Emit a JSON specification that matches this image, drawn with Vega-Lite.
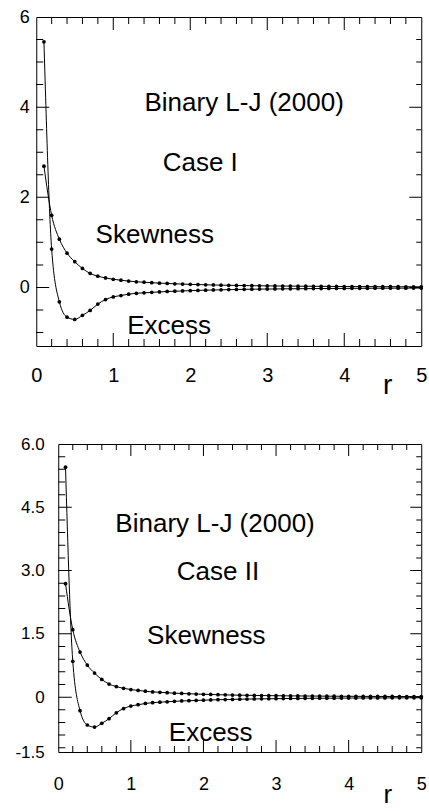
{
  "$schema": "https://vega.github.io/schema/vega-lite/v6.json",
  "padding": {"top": 7, "left": 13, "right": 0, "bottom": 0},
  "config": {
    "font": "Liberation Sans",
    "view": {"stroke": "black", "strokeWidth": 1},
    "axis": {"grid": false, "domain": false, "ticks": false, "tickColor": "black", "labelColor": "black", "titleColor": "black", "labelFont": "Liberation Sans", "titleFont": "Liberation Sans", "labelFlush": false, "labelOverlap": false}
  },
  "datasets": {
    "curves": [
      {"r":0.1,"v":2.69,"s":"Skewness"},{"r":0.2,"v":1.60,"s":"Skewness"},{"r":0.3,"v":1.07,"s":"Skewness"},{"r":0.4,"v":0.76,"s":"Skewness"},{"r":0.5,"v":0.57,"s":"Skewness"},
      {"r":0.6,"v":0.42,"s":"Skewness"},{"r":0.7,"v":0.31,"s":"Skewness"},{"r":0.8,"v":0.25,"s":"Skewness"},{"r":0.9,"v":0.21,"s":"Skewness"},{"r":1.0,"v":0.18,"s":"Skewness"},
      {"r":1.1,"v":0.16,"s":"Skewness"},{"r":1.2,"v":0.14,"s":"Skewness"},{"r":1.3,"v":0.125,"s":"Skewness"},{"r":1.4,"v":0.115,"s":"Skewness"},{"r":1.5,"v":0.105,"s":"Skewness"},
      {"r":1.6,"v":0.095,"s":"Skewness"},{"r":1.7,"v":0.088,"s":"Skewness"},{"r":1.8,"v":0.080,"s":"Skewness"},{"r":1.9,"v":0.074,"s":"Skewness"},{"r":2.0,"v":0.068,"s":"Skewness"},
      {"r":2.1,"v":0.063,"s":"Skewness"},{"r":2.2,"v":0.058,"s":"Skewness"},{"r":2.3,"v":0.054,"s":"Skewness"},{"r":2.4,"v":0.050,"s":"Skewness"},{"r":2.5,"v":0.047,"s":"Skewness"},
      {"r":2.6,"v":0.044,"s":"Skewness"},{"r":2.7,"v":0.041,"s":"Skewness"},{"r":2.8,"v":0.038,"s":"Skewness"},{"r":2.9,"v":0.036,"s":"Skewness"},{"r":3.0,"v":0.034,"s":"Skewness"},
      {"r":3.1,"v":0.032,"s":"Skewness"},{"r":3.2,"v":0.030,"s":"Skewness"},{"r":3.3,"v":0.029,"s":"Skewness"},{"r":3.4,"v":0.027,"s":"Skewness"},{"r":3.5,"v":0.026,"s":"Skewness"},
      {"r":3.6,"v":0.025,"s":"Skewness"},{"r":3.7,"v":0.023,"s":"Skewness"},{"r":3.8,"v":0.022,"s":"Skewness"},{"r":3.9,"v":0.021,"s":"Skewness"},{"r":4.0,"v":0.020,"s":"Skewness"},
      {"r":4.1,"v":0.019,"s":"Skewness"},{"r":4.2,"v":0.018,"s":"Skewness"},{"r":4.3,"v":0.018,"s":"Skewness"},{"r":4.4,"v":0.017,"s":"Skewness"},{"r":4.5,"v":0.016,"s":"Skewness"},
      {"r":4.6,"v":0.016,"s":"Skewness"},{"r":4.7,"v":0.015,"s":"Skewness"},{"r":4.8,"v":0.014,"s":"Skewness"},{"r":4.9,"v":0.014,"s":"Skewness"},{"r":5.0,"v":0.013,"s":"Skewness"},
      {"r":0.1,"v":5.45,"s":"Excess"},{"r":0.2,"v":0.85,"s":"Excess"},{"r":0.3,"v":-0.32,"s":"Excess"},{"r":0.4,"v":-0.66,"s":"Excess"},{"r":0.5,"v":-0.71,"s":"Excess"},
      {"r":0.6,"v":-0.62,"s":"Excess"},{"r":0.7,"v":-0.51,"s":"Excess"},{"r":0.8,"v":-0.37,"s":"Excess"},{"r":0.9,"v":-0.27,"s":"Excess"},{"r":1.0,"v":-0.21,"s":"Excess"},
      {"r":1.1,"v":-0.18,"s":"Excess"},{"r":1.2,"v":-0.15,"s":"Excess"},{"r":1.3,"v":-0.13,"s":"Excess"},{"r":1.4,"v":-0.12,"s":"Excess"},{"r":1.5,"v":-0.11,"s":"Excess"},
      {"r":1.6,"v":-0.10,"s":"Excess"},{"r":1.7,"v":-0.09,"s":"Excess"},{"r":1.8,"v":-0.085,"s":"Excess"},{"r":1.9,"v":-0.078,"s":"Excess"},{"r":2.0,"v":-0.072,"s":"Excess"},
      {"r":2.1,"v":-0.066,"s":"Excess"},{"r":2.2,"v":-0.061,"s":"Excess"},{"r":2.3,"v":-0.057,"s":"Excess"},{"r":2.4,"v":-0.053,"s":"Excess"},{"r":2.5,"v":-0.049,"s":"Excess"},
      {"r":2.6,"v":-0.046,"s":"Excess"},{"r":2.7,"v":-0.043,"s":"Excess"},{"r":2.8,"v":-0.040,"s":"Excess"},{"r":2.9,"v":-0.038,"s":"Excess"},{"r":3.0,"v":-0.036,"s":"Excess"},
      {"r":3.1,"v":-0.034,"s":"Excess"},{"r":3.2,"v":-0.032,"s":"Excess"},{"r":3.3,"v":-0.030,"s":"Excess"},{"r":3.4,"v":-0.029,"s":"Excess"},{"r":3.5,"v":-0.027,"s":"Excess"},
      {"r":3.6,"v":-0.026,"s":"Excess"},{"r":3.7,"v":-0.025,"s":"Excess"},{"r":3.8,"v":-0.024,"s":"Excess"},{"r":3.9,"v":-0.023,"s":"Excess"},{"r":4.0,"v":-0.022,"s":"Excess"},
      {"r":4.1,"v":-0.021,"s":"Excess"},{"r":4.2,"v":-0.020,"s":"Excess"},{"r":4.3,"v":-0.019,"s":"Excess"},{"r":4.4,"v":-0.018,"s":"Excess"},{"r":4.5,"v":-0.018,"s":"Excess"},
      {"r":4.6,"v":-0.017,"s":"Excess"},{"r":4.7,"v":-0.016,"s":"Excess"},{"r":4.8,"v":-0.016,"s":"Excess"},{"r":4.9,"v":-0.015,"s":"Excess"},{"r":5.0,"v":-0.015,"s":"Excess"}
    ],
    "notesTop": [
      {"r":2.70,"v":3.91,"label":"Binary L-J (2000)"},
      {"r":2.13,"v":2.58,"label":"Case I"},
      {"r":1.54,"v":0.98,"label":"Skewness"},
      {"r":1.725,"v":-1.04,"label":"Excess"}
    ],
    "notesBottom": [
      {"r":2.16,"v":3.92,"label":"Binary L-J (2000)"},
      {"r":2.20,"v":2.78,"label":"Case II"},
      {"r":2.04,"v":1.26,"label":"Skewness"},
      {"r":2.10,"v":-1.04,"label":"Excess"}
    ],
    "ticksTop": [
      {"ax":"x","val":0.2,"kind":"minor"},{"ax":"x","val":0.4,"kind":"minor"},{"ax":"x","val":0.6,"kind":"minor"},{"ax":"x","val":0.8,"kind":"minor"},{"ax":"x","val":1,"kind":"major"},
      {"ax":"x","val":1.2,"kind":"minor"},{"ax":"x","val":1.4,"kind":"minor"},{"ax":"x","val":1.6,"kind":"minor"},{"ax":"x","val":1.8,"kind":"minor"},{"ax":"x","val":2,"kind":"major"},
      {"ax":"x","val":2.2,"kind":"minor"},{"ax":"x","val":2.4,"kind":"minor"},{"ax":"x","val":2.6,"kind":"minor"},{"ax":"x","val":2.8,"kind":"minor"},{"ax":"x","val":3,"kind":"major"},
      {"ax":"x","val":3.2,"kind":"minor"},{"ax":"x","val":3.4,"kind":"minor"},{"ax":"x","val":3.6,"kind":"minor"},{"ax":"x","val":3.8,"kind":"minor"},{"ax":"x","val":4,"kind":"major"},
      {"ax":"x","val":4.2,"kind":"minor"},{"ax":"x","val":4.4,"kind":"minor"},{"ax":"x","val":4.6,"kind":"minor"},{"ax":"x","val":4.8,"kind":"minor"},
      {"ax":"y","val":-1,"kind":"minor"},{"ax":"y","val":-0.5,"kind":"minor"},{"ax":"y","val":0,"kind":"major"},{"ax":"y","val":0.5,"kind":"minor"},{"ax":"y","val":1,"kind":"minor"},
      {"ax":"y","val":1.5,"kind":"minor"},{"ax":"y","val":2,"kind":"major"},{"ax":"y","val":2.5,"kind":"minor"},{"ax":"y","val":3,"kind":"minor"},{"ax":"y","val":3.5,"kind":"minor"},
      {"ax":"y","val":4,"kind":"major"},{"ax":"y","val":4.5,"kind":"minor"},{"ax":"y","val":5,"kind":"minor"},{"ax":"y","val":5.5,"kind":"minor"}
    ],
    "ticksBottom": [
      {"ax":"x","val":0.2,"kind":"minor"},{"ax":"x","val":0.4,"kind":"minor"},{"ax":"x","val":0.6,"kind":"minor"},{"ax":"x","val":0.8,"kind":"minor"},{"ax":"x","val":1,"kind":"major"},
      {"ax":"x","val":1.2,"kind":"minor"},{"ax":"x","val":1.4,"kind":"minor"},{"ax":"x","val":1.6,"kind":"minor"},{"ax":"x","val":1.8,"kind":"minor"},{"ax":"x","val":2,"kind":"major"},
      {"ax":"x","val":2.2,"kind":"minor"},{"ax":"x","val":2.4,"kind":"minor"},{"ax":"x","val":2.6,"kind":"minor"},{"ax":"x","val":2.8,"kind":"minor"},{"ax":"x","val":3,"kind":"major"},
      {"ax":"x","val":3.2,"kind":"minor"},{"ax":"x","val":3.4,"kind":"minor"},{"ax":"x","val":3.6,"kind":"minor"},{"ax":"x","val":3.8,"kind":"minor"},{"ax":"x","val":4,"kind":"major"},
      {"ax":"x","val":4.2,"kind":"minor"},{"ax":"x","val":4.4,"kind":"minor"},{"ax":"x","val":4.6,"kind":"minor"},{"ax":"x","val":4.8,"kind":"minor"},
      {"ax":"y","val":-1.2,"kind":"minor"},{"ax":"y","val":-0.9,"kind":"minor"},{"ax":"y","val":-0.6,"kind":"minor"},{"ax":"y","val":-0.3,"kind":"minor"},{"ax":"y","val":0,"kind":"major"},
      {"ax":"y","val":0.3,"kind":"minor"},{"ax":"y","val":0.6,"kind":"minor"},{"ax":"y","val":0.9,"kind":"minor"},{"ax":"y","val":1.2,"kind":"minor"},{"ax":"y","val":1.5,"kind":"major"},
      {"ax":"y","val":1.8,"kind":"minor"},{"ax":"y","val":2.1,"kind":"minor"},{"ax":"y","val":2.4,"kind":"minor"},{"ax":"y","val":2.7,"kind":"minor"},{"ax":"y","val":3,"kind":"major"},
      {"ax":"y","val":3.3,"kind":"minor"},{"ax":"y","val":3.6,"kind":"minor"},{"ax":"y","val":3.9,"kind":"minor"},{"ax":"y","val":4.2,"kind":"minor"},{"ax":"y","val":4.5,"kind":"major"},
      {"ax":"y","val":4.8,"kind":"minor"},{"ax":"y","val":5.1,"kind":"minor"},{"ax":"y","val":5.4,"kind":"minor"},{"ax":"y","val":5.7,"kind":"minor"}
    ]
  },
  "center": true,
  "spacing": 34,
  "vconcat": [
    {
      "width": 385,
      "height": 329,
      "layer": [
        {
          "data": {"name": "curves"},
          "mark": {"type": "line", "color": "black", "strokeWidth": 1, "interpolate": "monotone"},
          "encoding": {
            "x": {"field": "r", "type": "quantitative", "scale": {"domain": [0, 5], "nice": false},
              "axis": {"orient": "bottom", "values": [0,1,2,3,4,5], "labelFontSize": 20, "labelPadding": 19, "title": "r", "titleFontSize": 28, "titleFontWeight": "normal", "titleX": 351, "titleY": 47, "titleBaseline": "alphabetic", "titleAlign": "center", "titleAnchor": null}},
            "y": {"field": "v", "type": "quantitative", "scale": {"domain": [-1.3, 6], "nice": false, "zero": false},
              "axis": {"orient": "left", "values": [0,2,4,6], "labelFontSize": 18, "labelPadding": 7, "title": null, "minExtent": 22}},
            "detail": {"field": "s"}
          }
        },
        {
          "data": {"name": "curves"},
          "mark": {"type": "point", "filled": true, "color": "black", "size": 14, "opacity": 1},
          "encoding": {
            "x": {"field": "r", "type": "quantitative", "axis": null},
            "y": {"field": "v", "type": "quantitative", "axis": null}
          }
        },
        {
          "data": {"name": "notesTop"},
          "mark": {"type": "text", "fontSize": 26, "align": "center", "baseline": "alphabetic", "color": "black", "font": "Liberation Sans"},
          "encoding": {
            "x": {"field": "r", "type": "quantitative", "axis": null},
            "y": {"field": "v", "type": "quantitative", "axis": null},
            "text": {"field": "label"}
          }
        },
        {
          "data": {"name": "ticksTop"},
          "transform": [{"filter": "datum.ax == 'x'"}],
          "mark": {"type": "tick", "orient": "vertical", "clip": true, "color": "black", "thickness": 1, "opacity": 1},
          "encoding": {
            "x": {"field": "val", "type": "quantitative", "axis": null},
            "y": {"datum": -1.3, "type": "quantitative", "axis": null},
            "size": {"field": "kind", "type": "nominal", "scale": {"domain": ["minor", "major"], "range": [14, 26]}, "legend": null}
          }
        },
        {
          "data": {"name": "ticksTop"},
          "transform": [{"filter": "datum.ax == 'x'"}],
          "mark": {"type": "tick", "orient": "vertical", "clip": true, "color": "black", "thickness": 1, "opacity": 1},
          "encoding": {
            "x": {"field": "val", "type": "quantitative", "axis": null},
            "y": {"datum": 6, "type": "quantitative", "axis": null},
            "size": {"field": "kind", "type": "nominal", "scale": {"domain": ["minor", "major"], "range": [14, 26]}, "legend": null}
          }
        },
        {
          "data": {"name": "ticksTop"},
          "transform": [{"filter": "datum.ax == 'y'"}],
          "mark": {"type": "tick", "orient": "horizontal", "clip": true, "color": "black", "thickness": 1, "opacity": 1},
          "encoding": {
            "x": {"datum": 0, "type": "quantitative", "axis": null},
            "y": {"field": "val", "type": "quantitative", "axis": {"orient": "right", "labels": false, "title": null, "minExtent": 27, "maxExtent": 27}},
            "size": {"field": "kind", "type": "nominal", "scale": {"domain": ["minor", "major"], "range": [14, 26]}, "legend": null}
          }
        },
        {
          "data": {"name": "ticksTop"},
          "transform": [{"filter": "datum.ax == 'y'"}],
          "mark": {"type": "tick", "orient": "horizontal", "clip": true, "color": "black", "thickness": 1, "opacity": 1},
          "encoding": {
            "x": {"datum": 5, "type": "quantitative", "axis": null},
            "y": {"field": "val", "type": "quantitative", "axis": null},
            "size": {"field": "kind", "type": "nominal", "scale": {"domain": ["minor", "major"], "range": [10, 24]}, "legend": null}
          }
        }
      ],
      "resolve": {"axis": {"x": "independent", "y": "independent"}, "scale": {"size": "independent"}}
    },
    {
      "width": 363,
      "height": 308,
      "layer": [
        {
          "data": {"name": "curves"},
          "mark": {"type": "line", "color": "black", "strokeWidth": 1, "interpolate": "monotone"},
          "encoding": {
            "x": {"field": "r", "type": "quantitative", "scale": {"domain": [0, 5], "nice": false},
              "axis": {"orient": "bottom", "values": [0,1,2,3,4,5], "labelFontSize": 18, "labelPadding": 23, "title": "r", "titleFontSize": 26, "titleFontWeight": "normal", "titleX": 329, "titleY": 50, "titleBaseline": "alphabetic", "titleAlign": "center", "titleAnchor": null}},
            "y": {"field": "v", "type": "quantitative", "scale": {"domain": [-1.3, 6], "nice": false, "zero": false},
              "axis": {"orient": "left", "values": [6,4.5,3,1.5,0,-1.3], "labelFontSize": 17, "labelPadding": 14, "title": null,
                "labelExpr": "datum.value == 0 ? '0' : (datum.value < -1 ? '-1.5' : format(datum.value, '.1f'))"}},
            "detail": {"field": "s"}
          }
        },
        {
          "data": {"name": "curves"},
          "mark": {"type": "point", "filled": true, "color": "black", "size": 14, "opacity": 1},
          "encoding": {
            "x": {"field": "r", "type": "quantitative", "axis": null},
            "y": {"field": "v", "type": "quantitative", "axis": null}
          }
        },
        {
          "data": {"name": "notesBottom"},
          "mark": {"type": "text", "fontSize": 26, "align": "center", "baseline": "alphabetic", "color": "black", "font": "Liberation Sans"},
          "encoding": {
            "x": {"field": "r", "type": "quantitative", "axis": null},
            "y": {"field": "v", "type": "quantitative", "axis": null},
            "text": {"field": "label"}
          }
        },
        {
          "data": {"name": "ticksBottom"},
          "transform": [{"filter": "datum.ax == 'x'"}],
          "mark": {"type": "tick", "orient": "vertical", "clip": true, "color": "black", "thickness": 1, "opacity": 1},
          "encoding": {
            "x": {"field": "val", "type": "quantitative", "axis": null},
            "y": {"datum": -1.3, "type": "quantitative", "axis": null},
            "size": {"field": "kind", "type": "nominal", "scale": {"domain": ["minor", "major"], "range": [12, 24]}, "legend": null}
          }
        },
        {
          "data": {"name": "ticksBottom"},
          "transform": [{"filter": "datum.ax == 'x'"}],
          "mark": {"type": "tick", "orient": "vertical", "clip": true, "color": "black", "thickness": 1, "opacity": 1},
          "encoding": {
            "x": {"field": "val", "type": "quantitative", "axis": null},
            "y": {"datum": 6, "type": "quantitative", "axis": null},
            "size": {"field": "kind", "type": "nominal", "scale": {"domain": ["minor", "major"], "range": [12, 24]}, "legend": null}
          }
        },
        {
          "data": {"name": "ticksBottom"},
          "transform": [{"filter": "datum.ax == 'y'"}],
          "mark": {"type": "tick", "orient": "horizontal", "clip": true, "color": "black", "thickness": 1, "opacity": 1},
          "encoding": {
            "x": {"datum": 0, "type": "quantitative", "axis": null},
            "y": {"field": "val", "type": "quantitative", "axis": null},
            "size": {"field": "kind", "type": "nominal", "scale": {"domain": ["minor", "major"], "range": [14, 27]}, "legend": null}
          }
        },
        {
          "data": {"name": "ticksBottom"},
          "transform": [{"filter": "datum.ax == 'y'"}],
          "mark": {"type": "tick", "orient": "horizontal", "clip": true, "color": "black", "thickness": 1, "opacity": 1},
          "encoding": {
            "x": {"datum": 5, "type": "quantitative", "axis": null},
            "y": {"field": "val", "type": "quantitative", "axis": null},
            "size": {"field": "kind", "type": "nominal", "scale": {"domain": ["minor", "major"], "range": [10, 22]}, "legend": null}
          }
        }
      ],
      "resolve": {"axis": {"x": "independent", "y": "independent"}, "scale": {"size": "independent"}}
    }
  ]
}
